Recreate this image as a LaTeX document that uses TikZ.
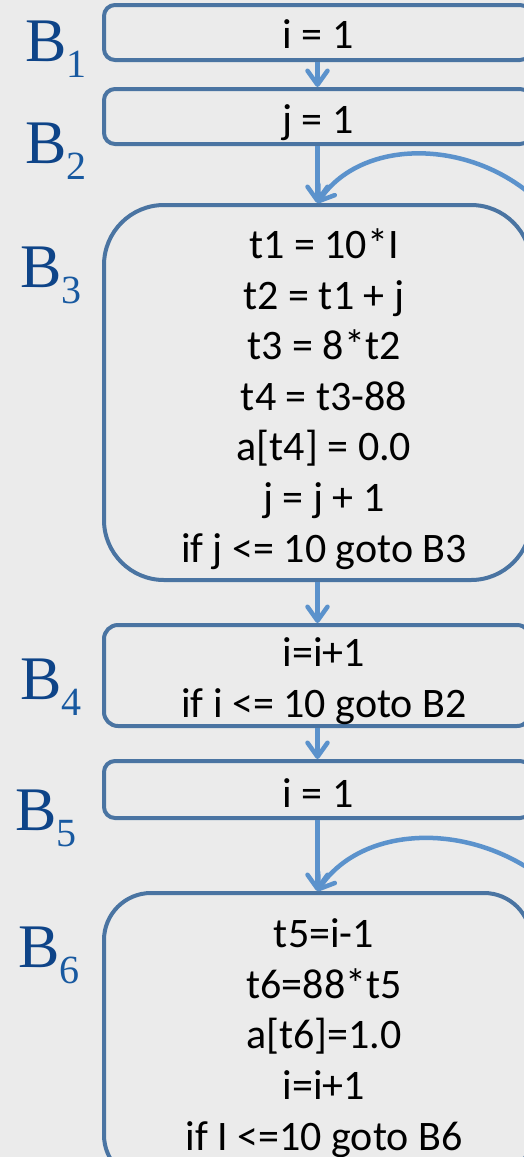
\documentclass[tikz,border=0pt]{standalone}
\usepackage{fontspec}
\setmainfont{Carlito}
\newfontfamily\labfont{Liberation Serif}
\usetikzlibrary{arrows.meta}
\definecolor{bg}{HTML}{EBEBEB}
\definecolor{boxblue}{HTML}{4A74A2}
\definecolor{arrblue}{HTML}{5B92CC}
\definecolor{labB}{HTML}{0E4488}
\definecolor{labsub}{HTML}{1859A0}
\newcommand\bsub[1]{\raisebox{-16pt}{\color{labsub}\fontsize{40}{40}\selectfont #1}}
\begin{document}
\begin{tikzpicture}[x=1pt,y=-1pt,
  blk/.style={draw=boxblue, line width=4pt, minimum width=427pt, inner sep=0pt},
  code/.style={font=\fontsize{42}{50.6}\selectfont, align=center, anchor=base, inner sep=0pt},
  flow/.style={draw=arrblue, line width=4.5pt, -{Straight Barb[length=14pt,width=20pt,line cap=round,line join=round]}},
  lab/.style={anchor=base west, inner sep=0pt, text=labB, font=\labfont\fontsize{62}{62}\selectfont}]
\useasboundingbox (0,0) rectangle (524,1157);
\fill[bg] (0,0) rectangle (524,1157);
\clip (0,0) rectangle (524,1157);
% blocks
\node[blk, rounded corners=11pt, minimum height=55pt] (B1) at (317.5,32.5) {};
\node[blk, rounded corners=11pt, minimum height=55pt] (B2) at (317.5,116.5) {};
\node[blk, rounded corners=60pt, minimum height=375pt] (B3) at (317.5,392.5) {};
\node[blk, rounded corners=14pt, minimum height=101pt] (B4) at (317.5,675.5) {};
\node[blk, rounded corners=11pt, minimum height=57pt] (B5) at (317.5,789.5) {};
\node[blk, rounded corners=47pt, minimum height=289pt] (B6) at (317.5,1037.5) {};
% code (multi-line nodes: base = baseline of last line)
\node[code] (c1) at (318,48) {i = 1};
\node[code] (c2) at (318,133) {j = 1};
\node[code] (c3) at (324,562) {t1 = 10*I\\ t2 = t1 + j\\ t3 = 8*t2\\ t4 = t3-88\\ a[t4] = 0.0\\ j = j + 1\\ if j <= 10 goto B3};
\node[code] (c4) at (324,717) {i=i+1\\ if i <= 10 goto B2};
\node[code] (c5) at (318,807) {i = 1};
\node[code] (c6) at (324,1150) {t5=i-1\\ t6=88*t5\\ a[t6]=1.0\\ i=i+1\\ if I <=10 goto B6};
% labels
\node[lab] (L1) at (25,61) {B\bsub{1}};
\node[lab] (L2) at (25,163) {B\bsub{2}};
\node[lab] (L3) at (20,287) {B\bsub{3}};
\node[lab] (L4) at (20,699) {B\bsub{4}};
\node[lab] (L5) at (15,830) {B\bsub{5}};
\node[lab] (L6) at (18,967) {B\bsub{6}};
% connectors
\draw[flow] (B1.south) -- (B2.north);
\draw[flow] (B2.south) -- (B3.north);
\draw[flow] (B3.south) -- (B4.north);
\draw[flow] (B4.south) -- (B5.north);
\draw[flow] (B5.south) -- (B6.north);
\coordinate (r3) at (575,250);
\coordinate (r6) at (590,930);
\draw[flow] (r3) .. controls (520,140) and (370,125) .. (B3.north);
\draw[flow] (r6) .. controls (520,820) and (370,812) .. (B6.north);
\end{tikzpicture}
\end{document}
